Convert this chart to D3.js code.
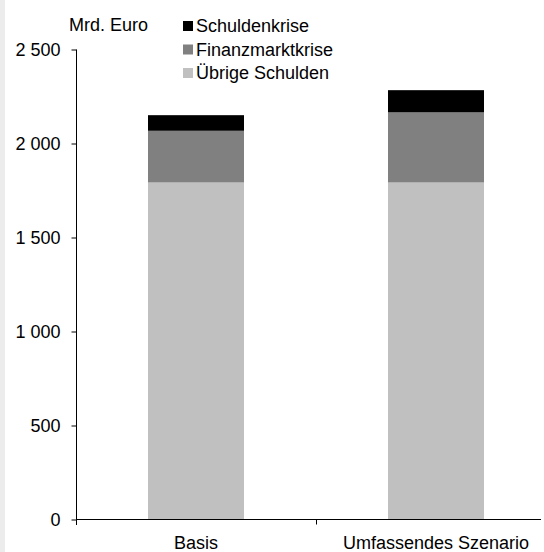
<!DOCTYPE html>
<html>
<head>
<meta charset="utf-8">
<script src="https://cdn.jsdelivr.net/npm/d3@7"></script>
<style>
  body { margin: 0; background: #fff; }
  text { font-family: "Liberation Sans", Arial, sans-serif; font-size: 18px; fill: #000; }
</style>
</head>
<body>
<svg width="544" height="552"></svg>
<script>
var categories = ["Basis", "Umfassendes Szenario"],
    seriesNames = ["Übrige Schulden", "Finanzmarktkrise", "Schuldenkrise"],
    uebrige = [1790, 1790],
    finanz = [275, 373],
    schulden = [83, 118],
    yTicks = [0, 500, 1000, 1500, 2000, 2500],
    colors = ["#c0c0c0", "#808080", "#000000"];

var svg = d3.select("svg"),
    width = +svg.attr("width"),
    height = +svg.attr("height");

// light strip on the left edge
svg.append("rect").attr("x", 0).attr("y", 0).attr("width", 5).attr("height", height).attr("fill", "#ececec");

var rows = categories.map(function(c, i) {
  return { cat: c, "Übrige Schulden": uebrige[i], "Finanzmarktkrise": finanz[i], "Schuldenkrise": schulden[i] };
});

var x = d3.scaleBand().domain(categories).range([76, 556]),
    y = d3.scaleLinear().domain([0, 2500]).range([519, 49]);

var stack = d3.stack().keys(seriesNames)(rows);
var barW = x.bandwidth() * 0.4;

svg.selectAll("g.layer")
  .data(stack)
  .enter().append("g")
    .attr("class", "layer")
    .attr("fill", function(d, i) { return colors[i]; })
  .selectAll("rect")
  .data(function(d) { return d; })
  .enter().append("rect")
    .attr("x", function(d) { return x(d.data.cat) + (x.bandwidth() - barW) / 2; })
    .attr("width", barW)
    .attr("y", function(d) { return y(d[1]); })
    .attr("height", function(d) { return y(d[0]) - y(d[1]); });

// y axis
var yAxis = svg.append("g")
    .attr("transform", "translate(76.5,0)")
    .call(d3.axisLeft(y).tickValues(yTicks).tickSize(5).tickSizeOuter(0)
      .tickFormat(function(d) { return d3.format(",")(d).replace(",", " "); }));
yAxis.select(".domain").attr("d", "M0," + (y(2500) + 0.5) + "V" + (y(0) + 6));
yAxis.selectAll(".tick line").attr("stroke", "#000").attr("transform", "translate(0,0.5)");
yAxis.selectAll(".tick text").attr("x", -16).attr("dy", "0.36em")
  .style("font-family", "'Liberation Sans', Arial, sans-serif").style("font-size", "18px");

// x axis
var xg = svg.append("g").attr("transform", "translate(0," + (y(0) + 0.5) + ")");
xg.append("line").attr("x1", 76).attr("x2", 541).attr("stroke", "#000");
xg.selectAll("line.tk")
  .data(categories.slice(1))
  .enter().append("line")
    .attr("class", "tk")
    .attr("x1", function(d) { return x(d) + 0.5; })
    .attr("x2", function(d) { return x(d) + 0.5; })
    .attr("y1", 0).attr("y2", 5)
    .attr("stroke", "#000");
xg.selectAll("text")
  .data(categories)
  .enter().append("text")
    .attr("x", function(d) { return x(d) + x.bandwidth() / 2; })
    .attr("y", 29)
    .attr("text-anchor", "middle")
    .text(function(d) { return d; });

svg.append("text").attr("x", 69).attr("y", 31).text("Mrd. Euro");

// legend, top to bottom
var legend = svg.selectAll("g.legend")
  .data(seriesNames.slice().reverse())
  .enter().append("g")
    .attr("class", "legend")
    .attr("transform", function(d, i) { return "translate(183," + (32 + i * 23.5) + ")"; });
legend.append("rect")
    .attr("x", 0).attr("y", -11).attr("width", 10).attr("height", 10)
    .attr("fill", function(d) { return colors[seriesNames.indexOf(d)]; });
legend.append("text").attr("x", 13).attr("y", 0).text(function(d) { return d; });
</script>
</body>
</html>
